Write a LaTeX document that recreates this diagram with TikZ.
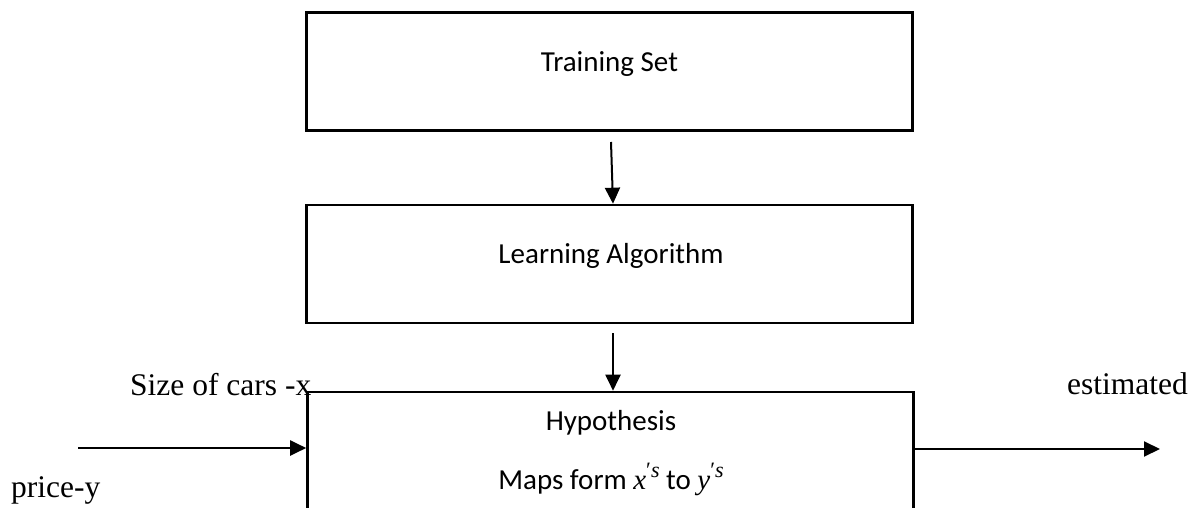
\documentclass[tikz,border=0pt]{standalone}
\usepackage{fontspec}
\setmainfont{Liberation Serif}
\newfontfamily\boxfont{Carlito}
\newfontfamily\mvarfont{Liberation Serif}
\newcommand\primed[1]{{\mvarfont\itshape #1}\raisebox{0.8ex}{\mvarfont\fontsize{22}{22}\selectfont ′\itshape s}}
\usetikzlibrary{arrows.meta}
\begin{document}
\begin{tikzpicture}[x=1pt,y=-1pt,
  stage/.style={draw=black, line width=2.6pt, rectangle, minimum width=606pt, inner sep=0pt},
  boxtext/.style={font=\boxfont\fontsize{29}{34}\selectfont, anchor=base, inner sep=0pt},
  sidetext/.style={font=\fontsize{31.5}{36}\selectfont, anchor=base west, inner sep=0pt},
  flow/.style={-{Triangle[length=16pt,width=15pt]}, line width=2pt}]
  \useasboundingbox (0,0) rectangle (1197,508);
  \fill[white] (0,0) rectangle (1197,508);
  \clip (0,0) rectangle (1197,508);

  % the three stages
  \node[stage, minimum height=118pt] (train) at (609.5,71.5) {};
  \node[stage, minimum height=118pt] (learn) at (609.5,264) {};
  \node[stage, minimum height=170pt] (hyp) at (610.5,477) {};

  % stage captions
  \node[boxtext] (trainlbl) at (609.5,72) {Training Set};
  \node[boxtext] (learnlbl) at (611,263) {Learning Algorithm};
  \node[boxtext] (hyplbl) at (611,430) {Hypothesis};
  \node[boxtext] (maplbl) at (611,489) {Maps form \primed{x} to \primed{y}};

  % input / output captions
  \node[sidetext] (sizelbl) at (130,395) {Size of cars -x};
  \node[sidetext] (estlbl) at (1067,394) {estimated};
  \node[sidetext] (pricelbl) at (11,497) {price-y};

  % connectors
  \coordinate (a1) at (611,142);
  \draw[flow] (a1) -- ([xshift=3.5pt]learn.north);
  \coordinate (a2) at (613,333);
  \draw[flow] (a2) -- (a2 |- hyp.north);
  \coordinate (xin) at (78,448);
  \draw[flow] (xin) -- (xin -| hyp.west);
  \coordinate (yout) at (1160,449);
  \draw[flow] (yout -| hyp.east) -- (yout);
\end{tikzpicture}
\end{document}
